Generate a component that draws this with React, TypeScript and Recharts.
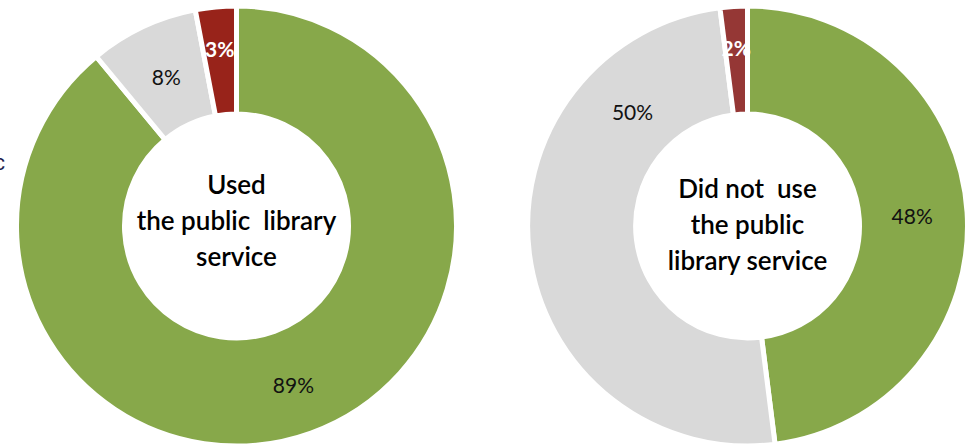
import React from "react";
import { PieChart, Pie, Cell } from "recharts";

// answer groups, same order in both rings (clockwise from 12 o'clock)
const categories = ["Group A", "Group B", "Group C"];
const usedValues = [89, 8, 3];
const notUsedValues = [48, 50, 2];
const usedTitle = ["Used", "the public\u00a0 library", "service"];
const notUsedTitle = ["Did not\u00a0 use", "the public", "library service"];

const usedColors = ["#87A84A", "#D9D9D9", "#98231A"];
const notUsedColors = ["#87A84A", "#D9D9D9", "#953735"];
const labelFill = ["#111", "#111", "#fff"];

const usedData = categories.map((name, i) => ({ name, value: usedValues[i] }));
const notUsedData = categories.map((name, i) => ({ name, value: notUsedValues[i] }));

const RAD = Math.PI / 180;
const FONT = "Lato, 'Open Sans', sans-serif";

// label radius + angle nudge per slice (the grey 50% label sits up-left, like the source)
const usedTweaks = [
  { r: 168, shift: 0 },
  { r: 165, shift: 0 },
  { r: 178, shift: 0 },
];
const notUsedTweaks = [
  { r: 165, shift: 0 },
  { r: 162, shift: -52 },
  { r: 179, shift: 0 },
];

const makeLabel = (tweaks: { r: number; shift: number }[]) => (props: any) => {
  const { cx, cy, midAngle, index, value } = props;
  const t = tweaks[index];
  const a = (midAngle + t.shift) * RAD;
  const x = cx + t.r * Math.cos(-a);
  const y = cy + t.r * Math.sin(-a);
  return (
    <text
      x={x}
      y={y}
      textAnchor="middle"
      dominantBaseline="central"
      fill={labelFill[index]}
      fontFamily={FONT}
      fontSize={21}
      fontWeight={index === 2 ? 700 : 400}
    >
      {value}%
    </text>
  );
};

const CenterText: React.FC<{ lines: string[]; x: number; y: number }> = ({ lines, x, y }) => (
  <div
    style={{
      position: "absolute",
      left: x - 120,
      top: y - 54,
      width: 240,
      textAlign: "center",
      fontFamily: FONT,
      fontSize: 26,
      fontWeight: 600,
      lineHeight: "36px",
      color: "#000",
      whiteSpace: "nowrap",
    }}
  >
    {lines.map((l) => (
      <div key={l}>{l}</div>
    ))}
  </div>
);

const App: React.FC = () => {
  return (
    <div style={{ position: "absolute", left: 0, top: 0, width: 969, height: 446, background: "#fff" }}>
      <PieChart width={969} height={446} margin={{ top: 0, right: 0, bottom: 0, left: 0 }}>
        <Pie
          data={usedData}
          dataKey="value"
          cx={236.5}
          cy={226}
          innerRadius={112}
          outerRadius={220}
          startAngle={90}
          endAngle={-270}
          stroke="#fff"
          strokeWidth={5}
          label={makeLabel(usedTweaks)}
          labelLine={false}
          isAnimationActive={false}
        >
          {usedData.map((d, i) => (
            <Cell key={d.name} fill={usedColors[i]} />
          ))}
        </Pie>
        <Pie
          data={notUsedData}
          dataKey="value"
          cx={747.5}
          cy={226}
          innerRadius={112}
          outerRadius={220}
          startAngle={90}
          endAngle={-270}
          stroke="#fff"
          strokeWidth={5}
          label={makeLabel(notUsedTweaks)}
          labelLine={false}
          isAnimationActive={false}
        >
          {notUsedData.map((d, i) => (
            <Cell key={d.name} fill={notUsedColors[i]} />
          ))}
        </Pie>
      </PieChart>
      <CenterText lines={usedTitle} x={236.5} y={219.5} />
      <CenterText lines={notUsedTitle} x={747.5} y={224} />
      {/* cut-off legend text at the left edge */}
      <div
        style={{
          position: "absolute",
          left: -6,
          top: 150,
          fontFamily: "'Liberation Sans', Arial, sans-serif",
          fontSize: 22,
          color: "#1c1c4c",
        }}
      >
        c
      </div>
    </div>
  );
};

export default App;
